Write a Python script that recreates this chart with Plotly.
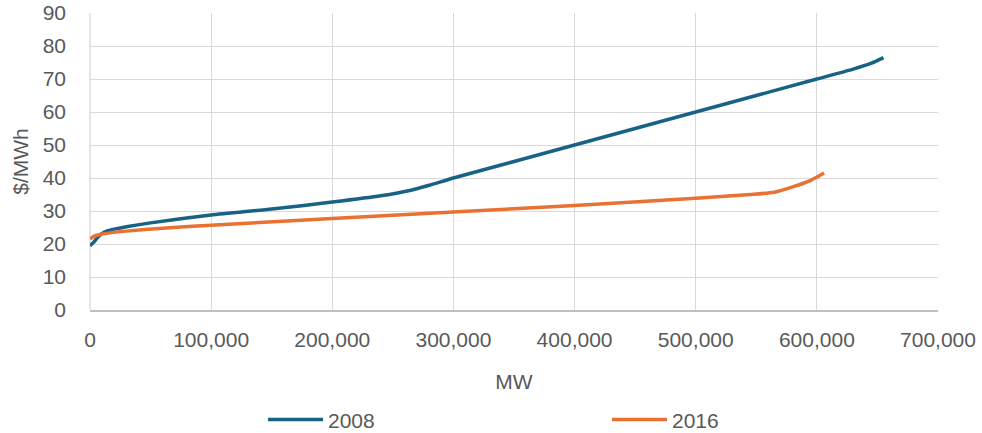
import plotly.graph_objects as go

mw_2008 = [0, 3000, 7000, 12000, 18000, 30000, 50000, 100000, 150000, 200000, 240000, 265000, 280000, 300000, 350000, 400000, 450000, 500000, 550000, 600000, 630000, 645000, 655000]
price_2008 = [19.5, 20.5, 22.3, 23.6, 24.3, 25.2, 26.4, 28.8, 30.6, 32.7, 34.6, 36.3, 37.8, 40.0, 45.0, 50.0, 55.0, 60.0, 65.0, 70.0, 73.0, 74.8, 76.5]

mw_2016 = [0, 3000, 8000, 15000, 30000, 60000, 100000, 200000, 300000, 400000, 500000, 545000, 565000, 580000, 595000, 606000]
price_2016 = [21.5, 22.3, 22.9, 23.3, 23.9, 24.8, 25.7, 27.7, 29.7, 31.7, 33.9, 35.0, 35.7, 37.3, 39.3, 41.5]

grey = "#595959"
font = "Liberation Sans"

fig = go.Figure()
fig.add_trace(go.Scatter(x=mw_2008, y=price_2008, name="2008", mode="lines",
                         line=dict(color="#176285", width=3.5, shape="spline", smoothing=0.6)))
fig.add_trace(go.Scatter(x=mw_2016, y=price_2016, name="2016", mode="lines",
                         line=dict(color="#E97132", width=3.5, shape="spline", smoothing=0.6)))

fig.update_layout(
    width=982, height=433,
    margin=dict(l=90, r=44, t=13, b=123, autoexpand=False),
    paper_bgcolor="white", plot_bgcolor="white",
    font=dict(family=font, size=21, color=grey),
    showlegend=True,
    legend=dict(orientation="h", x=0.204, xanchor="left", y=-0.37, yanchor="middle",
                font=dict(size=21, color=grey), entrywidth=274, itemwidth=55),
    xaxis=dict(range=[0, 700000], tickvals=[0, 100000, 200000, 300000, 400000, 500000, 600000, 700000],
               tickformat=",d", showgrid=True, gridcolor="#d9d9d9", gridwidth=1.3,
               showline=True, linecolor="#bfbfbf", linewidth=1.5, zeroline=False,
               ticks="", tickfont=dict(size=21, color=grey), ticklabelstandoff=10,
               automargin=False, ticklabeloverflow="allow",
               title=dict(text="MW", font=dict(size=21, color=grey), standoff=24)),
    yaxis=dict(range=[0, 90], dtick=10, showgrid=True, gridcolor="#d9d9d9", gridwidth=1.3,
               zeroline=False, showline=False, ticks="", tickfont=dict(size=21, color=grey),
               ticklabelstandoff=23, automargin=False, ticklabeloverflow="allow",
               title=dict(text="$/MWh", font=dict(size=21, color=grey), standoff=8)),
)
fig.add_shape(type="line", xref="paper", yref="paper", x0=0, x1=0, y0=0, y1=1,
              line=dict(color="#d9d9d9", width=1.3), layer="below")

fig.write_html("out.html", config={"displayModeBar": False},
               post_script="document.body.style.margin='0';")
